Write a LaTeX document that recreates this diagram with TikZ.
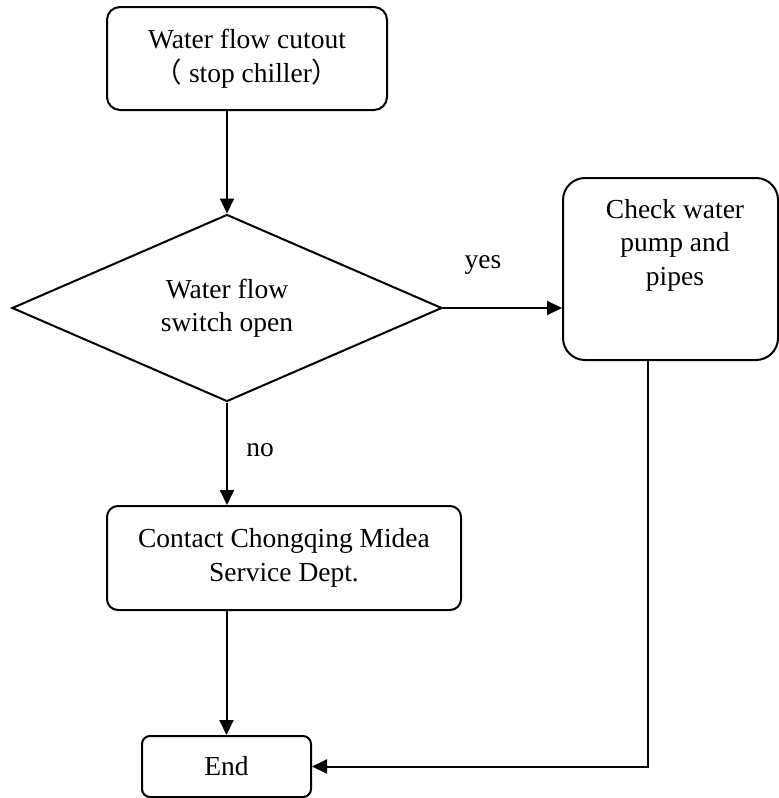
\documentclass[tikz,border=0pt]{standalone}
\usepackage{fontspec}
\setmainfont{Liberation Serif}
\newfontfamily\cjk{Noto Sans CJK SC}
\usetikzlibrary{shapes.geometric,arrows.meta}
\tikzset{
  base/.style={draw=black, line width=2pt, align=center, inner sep=0pt,
    font=\fontsize{27.5pt}{33.5pt}\selectfont},
  pbox/.style={base, rectangle},
  decbox/.style={base, diamond, aspect=2.3},
  txt/.style={align=center, inner sep=0pt, font=\fontsize{27.5pt}{33.5pt}\selectfont},
  arr/.style={line width=2pt, -{Triangle[length=15pt,width=14pt]}}
}
\begin{document}
\begin{tikzpicture}[x=1pt,y=-1pt]
\useasboundingbox (0,0) rectangle (779,798);
\node[pbox, rounded corners=13pt, minimum width=280pt, minimum height=103pt] (cut) at (247,58.5)
  {Water flow cutout\\{\cjk （}\hspace{7pt}stop chiller{\cjk ）}};
\node[decbox, minimum width=430pt, minimum height=187pt] (dec) at (227,308)
  {Water flow\\switch open};
\node[pbox, rounded corners=22pt, minimum width=215pt, minimum height=182pt] (chk) at (670.5,269) {};
\node[txt] (chktxt) at (675,245) {Check water\\pump and\\pipes};
\node[pbox, rounded corners=11pt, minimum width=354pt, minimum height=104pt] (con) at (284,558)
  {Contact Chongqing Midea\\Service Dept.};
\node[pbox, rounded corners=8pt, minimum width=169pt, minimum height=61pt] (endn) at (226.5,766.5) {End};
\node[txt] (yes) at (483,265) {yes};
\node[txt] (no) at (260,450) {no};
\draw[arr] (cut.south -| dec.north) -- (dec.north);
\draw[arr] (dec.east) -- (dec.east -| chk.west);
\draw[arr] (dec.south) -- (dec.south |- con.north);
\draw[arr] (con.south -| endn.north) -- (endn.north);
\draw[arr] ([xshift=-22.5pt]chk.south) |- (endn.east);
\end{tikzpicture}
\end{document}
